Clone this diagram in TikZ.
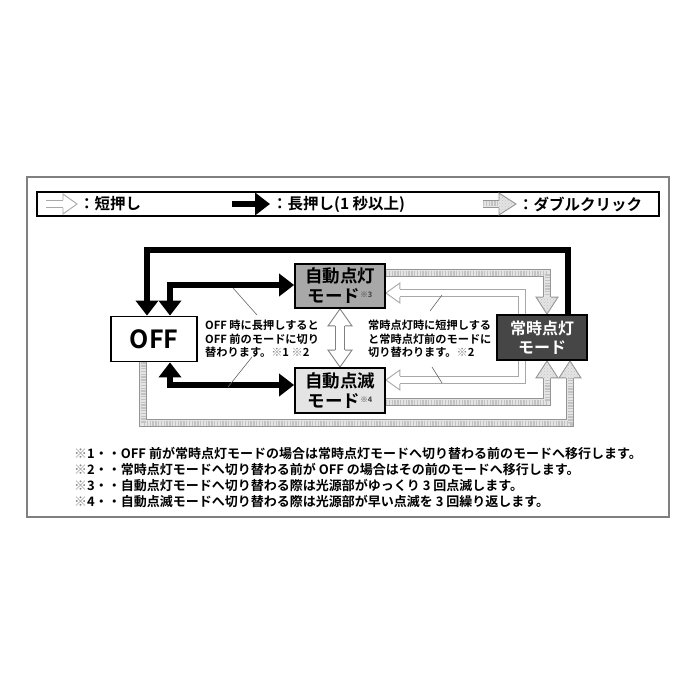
\documentclass[tikz,border=0pt]{standalone}
\usepackage{fontspec}
\setmainfont{Noto Sans CJK JP}[BoldFont={Noto Sans CJK JP Bold}]
\usetikzlibrary{arrows.meta,calc,patterns}
\definecolor{onfill}{HTML}{A8A8A8}
\definecolor{blfill}{HTML}{E4E4E4}
\definecolor{cofill}{HTML}{464646}
\definecolor{hatchfill}{HTML}{E4E4E4}
\definecolor{hatchdot}{HTML}{C2C2C2}
\definecolor{hatchline}{HTML}{959595}
\definecolor{hollowline}{HTML}{A8A8A8}
\definecolor{noteline}{HTML}{666666}
\tikzset{
  modebox/.style={draw=black, line width=1.8pt, minimum width=90pt, minimum height=44pt, inner sep=0pt, align=center, font=\bfseries\fontsize{17.5}{20}\selectfont},
  blackarrow/.style={line width=6.5pt, line join=miter, black, {Triangle[length=15pt,width=22pt]}-{Triangle[length=15pt,width=22pt]}},
  blackone/.style={line width=6.5pt, line join=miter, black, -{Triangle[length=15pt,width=22pt]}},
  hollowshaft/.style={draw=hollowline, line width=0.9pt, double=white, double distance=6pt, line join=miter},
  hatchshaft/.style={draw=hatchline, line width=0.9pt, double=hatchfill, double distance=6.5pt, line join=miter,
     postaction={draw=hatchdot, line width=5pt, dash pattern=on 1.4pt off 1.4pt}},
  callout/.style={noteline, line width=0.6pt},
  notetext/.style={align=left, inner sep=0pt, anchor=west, font=\bfseries\fontsize{11.2}{13.5}\selectfont},
  legendtext/.style={anchor=west, inner sep=0pt, font=\bfseries\fontsize{15.5}{17}\selectfont},
  pics/whead/.style={code={
    \fill[white] (0,0) -- (-14,-10) -- (-14,10) -- cycle;
    \draw[hollowline, line width=0.9pt, line join=miter] (-14,-4) -- (-14,-10) -- (0,0) -- (-14,10) -- (-14,4);}},
  pics/vhead/.style={code={
    \fill[white] (0,0) -- (-17,-12) -- (-17,12) -- cycle;
    \draw[gray, line width=0.9pt, line join=miter] (-17,-5) -- (-17,-12) -- (0,0) -- (-17,12) -- (-17,5);}},
  pics/hhead/.style={code={
    \fill[hatchfill] (0,0) -- (-17,-11) -- (-17,11) -- cycle;
    \fill[pattern=crosshatch dots, pattern color=hatchdot] (0,0) -- (-17,-11) -- (-17,11) -- cycle;
    \draw[hatchline, line width=0.9pt, line join=miter] (-17,-4.2) -- (-17,-11) -- (0,0) -- (-17,11) -- (-17,4.2);}},
}
\begin{document}
\begin{tikzpicture}[x=1pt, y=-1pt]
\useasboundingbox (0,0) rectangle (700,700);
% frames
\draw[gray, line width=1.3pt] (27,177) rectangle (669,517);
\draw[black, line width=1.4pt] (37,192) rectangle (659,216);

% legend
\draw[hollowshaft, line cap=butt] (46,204) -- (63,204);
\pic at (77,204) {whead};
\node[legendtext] (lg1) at (79,204) {：短押し};
\draw[blackone] (232,204) -- (270,204);
\node[legendtext] (lg2) at (272,204) {：長押し(1 秒以上)};
\draw[hatchshaft] (483,204) -- (499,204);
\pic at (516,204) {hhead};
\node[legendtext] (lg3) at (518,204) {：ダブルクリック};

% node positions (nodes drawn later on top)
\coordinate (offc) at (154,339);
\coordinate (aonc) at (340,286);
\coordinate (ablc) at (340,390.5);
\coordinate (conc) at (542,337.5);
\path node[modebox, minimum width=86pt, minimum height=45pt] (off) at (offc) {};
\path node[modebox] (aon) at (aonc) {};
\path node[modebox, minimum height=45pt] (abl) at (ablc) {};
\path node[modebox, minimum height=45pt] (con) at (conc) {};

% hatched (double click)
\draw[hatchshaft] (aon.east |- 0,273) -- (547,273) -- (547,298);
\pic[rotate=-90] at (547,0 |- con.north) {hhead};
\draw[hatchshaft] (abl.east |- 0,402) -- (547,402) -- (547,377);
\pic[rotate=90] at (547,0 |- con.south) {hhead};
\draw[hatchshaft] (143,0 |- off.south) -- (143,423) -- (570,423) -- (570,377);
\pic[rotate=90] at (570,0 |- con.south) {hhead};

% hollow (short press)
\draw[hollowshaft] (400,293) -- (522,293) -- (522,380) -- (400,380);
\pic[rotate=180] at (aon.east |- 0,293) {whead};
\pic[rotate=180] at (abl.east |- 0,380) {whead};
\draw[gray, line width=0.9pt, double=white, double distance=8pt] (340,325) -- (340,351);
\pic[rotate=90] at (aon.south) {vhead};
\pic[rotate=-90] at (abl.north) {vhead};

% black (long press)
\draw[blackone] (568,0 |- con.north) -- (568,250) -- (147,250) -- (147,0 |- off.north);
\draw[blackarrow] (170,0 |- off.north) -- (170,285) -- (aon.west |- 0,285);
\draw[blackarrow] (abl.west |- 0,385) -- (170,385) -- (170,0 |- off.south);

% boxes
\node[modebox, fill=white, minimum width=86pt, minimum height=45pt, font=\bfseries\fontsize{25}{27}\selectfont] at (off) {OFF};
\node[modebox, fill=onfill] at (aon) {自動点灯\\モード{\fontsize{7.5}{8}\selectfont\color{darkgray}\raisebox{5pt}{※3}}};
\node[modebox, fill=blfill, minimum height=45pt] at (abl) {自動点滅\\モード{\fontsize{7.5}{8}\selectfont\color{darkgray}\raisebox{5pt}{※4}}};
\node[modebox, fill=cofill, text=white, minimum height=45pt, font=\bfseries\fontsize{16}{19}\selectfont] at (con) {常時点灯\\モード};

% explanatory texts
\node[notetext] (t1) at (205,339) {OFF 時に長押しすると\\OFF 前のモードに切り\\替わります。{\color{gray}※}1 {\color{gray}※}2};
\node[notetext] (t2) at (368,339) {常時点灯時に短押しする\\と常時点灯前のモードに\\切り替わります。{\color{gray}※}2};
\coordinate (c1a) at (233,288); \coordinate (c1b) at (257,315);
\coordinate (c2a) at (252,357); \coordinate (c2b) at (228,387);
\coordinate (c3a) at (442,295); \coordinate (c3b) at (430,311);
\coordinate (c4a) at (432,367); \coordinate (c4b) at (442,383);
\draw[callout] (c1a) -- (c1b);
\draw[callout] (c2a) -- (c2b);
\draw[callout] (c3a) -- (c3b);
\draw[callout] (c4a) -- (c4b);

% footnotes
\node[notetext, font=\bfseries\fontsize{13}{16}\selectfont, anchor=north west] (fn) at (74,447) {%
{\color{gray}※}1・・OFF 前が常時点灯モードの場合は常時点灯モードへ切り替わる前のモードへ移行します。\\
{\color{gray}※}2・・常時点灯モードへ切り替わる前が OFF の場合はその前のモードへ移行します。\\
{\color{gray}※}3・・自動点灯モードへ切り替わる際は光源部がゆっくり 3 回点滅します。\\
{\color{gray}※}4・・自動点滅モードへ切り替わる際は光源部が早い点滅を 3 回繰り返します。};
\end{tikzpicture}
\end{document}
